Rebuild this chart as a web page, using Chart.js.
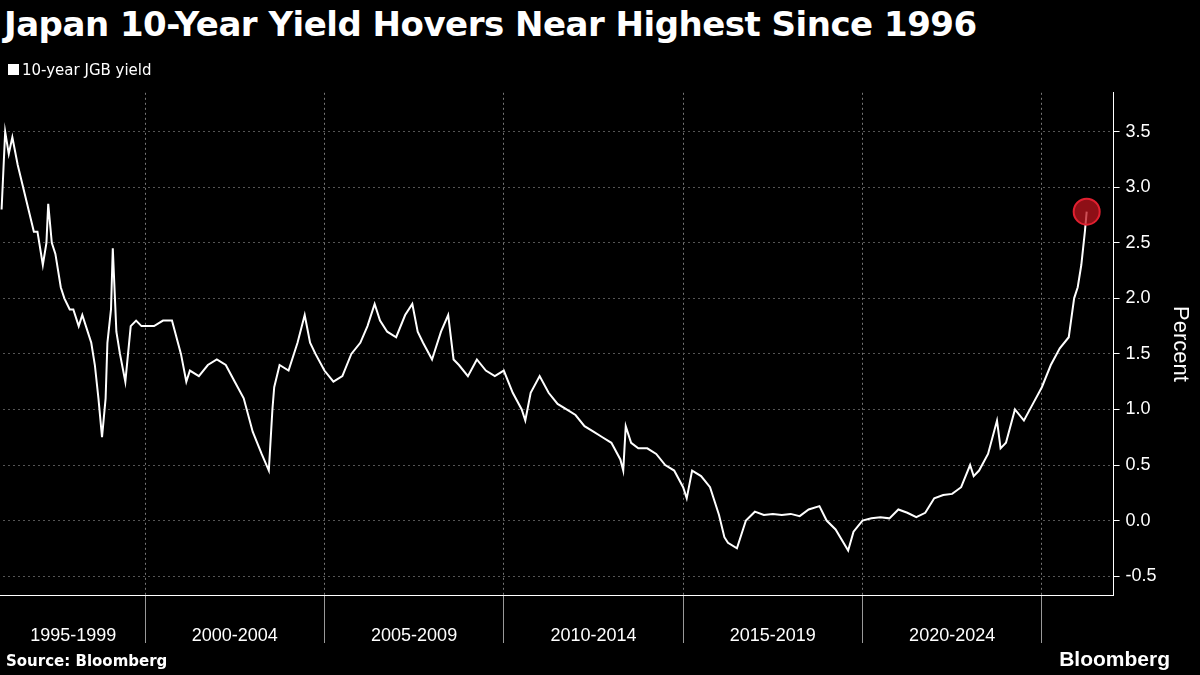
<!DOCTYPE html>
<html>
<head>
<meta charset="utf-8">
<script src="https://cdn.jsdelivr.net/npm/chart.js@4"></script>
<style>
  body { margin: 0; background: #000; width: 1200px; height: 675px; overflow: hidden; font-family: "Liberation Sans", Arial, sans-serif; color: #fff; }
  #title { position: absolute; left: 4px; top: 4px; font-size: 34px; font-weight: bold; font-family: "DejaVu Sans", sans-serif; letter-spacing: -0.5px; }
  #legend { position: absolute; left: 8px; top: 61px; font-size: 15px; font-family: "DejaVu Sans", sans-serif; }
  #legend span { display: inline-block; width: 11px; height: 11px; background: #fff; margin-right: 3px; }
  #source { position: absolute; left: 6px; top: 652px; font-size: 15px; font-weight: bold; font-family: "DejaVu Sans", sans-serif; }
  #brand { position: absolute; right: 30px; top: 647px; font-size: 21px; font-weight: bold; }
  #wrap { position: absolute; left: -17px; top: 76px; width: 1222px; height: 589px; }
</style>
</head>
<body>
<div id="wrap"><canvas id="c"></canvas></div>
<div id="title">Japan 10-Year Yield Hovers Near Highest Since 1996</div>
<div id="legend"><span></span>10-year JGB yield</div>
<div id="source">Source: Bloomberg</div>
<div id="brand">Bloomberg</div>
<script>
const years = [
  1996.0, 1996.1, 1996.2, 1996.3, 1996.45, 1996.6, 1996.75, 1996.9,
  1997.0, 1997.15, 1997.25, 1997.3, 1997.4, 1997.5, 1997.65, 1997.75, 1997.9,
  1998.0, 1998.15, 1998.25, 1998.4, 1998.5, 1998.6, 1998.7, 1998.8, 1998.9, 1998.95,
  1999.05, 1999.1, 1999.2, 1999.3, 1999.45, 1999.6, 1999.75, 1999.9,
  2000.0, 2000.25, 2000.5, 2000.75,
  2001.0, 2001.15, 2001.25, 2001.5, 2001.75,
  2002.0, 2002.25, 2002.5, 2002.75,
  2003.0, 2003.25, 2003.45, 2003.55, 2003.6, 2003.75,
  2004.0, 2004.25, 2004.45, 2004.6, 2004.75,
  2005.0, 2005.25, 2005.5, 2005.75,
  2006.0, 2006.2, 2006.4, 2006.55, 2006.75,
  2007.0, 2007.25, 2007.45, 2007.6, 2007.75,
  2008.0, 2008.25, 2008.45, 2008.6, 2008.75,
  2009.0, 2009.25, 2009.5, 2009.75,
  2010.0, 2010.25, 2010.5, 2010.6, 2010.75,
  2011.0, 2011.25, 2011.5, 2011.75,
  2012.0, 2012.25, 2012.5, 2012.75,
  2013.0, 2013.25, 2013.33, 2013.4, 2013.55, 2013.75,
  2014.0, 2014.25, 2014.5, 2014.75,
  2015.0, 2015.1, 2015.25, 2015.5, 2015.75,
  2016.0, 2016.15, 2016.25, 2016.5, 2016.75,
  2017.0, 2017.25, 2017.5, 2017.75,
  2018.0, 2018.25, 2018.5, 2018.8,
  2019.0, 2019.25, 2019.6, 2019.75,
  2020.0, 2020.25, 2020.5, 2020.75,
  2021.0, 2021.25, 2021.5, 2021.75,
  2022.0, 2022.25, 2022.5, 2022.75,
  2023.0, 2023.1, 2023.25, 2023.5, 2023.75, 2023.85,
  2024.0, 2024.25, 2024.5, 2024.75,
  2025.0, 2025.25, 2025.5, 2025.75,
  2025.9, 2026.0, 2026.1, 2026.2, 2026.25
];
const yields = [
  2.8, 3.5, 3.3, 3.45, 3.2, 3.0, 2.8, 2.6,
  2.6, 2.3, 2.5, 2.85, 2.5, 2.4, 2.1, 2.0, 1.9,
  1.9, 1.75, 1.85, 1.7, 1.6, 1.4, 1.1, 0.75, 1.1, 1.6,
  1.9, 2.45, 1.7, 1.5, 1.25, 1.75, 1.8, 1.75,
  1.75, 1.75, 1.8, 1.8,
  1.5, 1.25, 1.35, 1.3, 1.4,
  1.45, 1.4, 1.25, 1.1,
  0.8, 0.6, 0.45, 1.0, 1.2, 1.4,
  1.35, 1.6, 1.85, 1.6, 1.5,
  1.35, 1.25, 1.3, 1.5,
  1.6, 1.75, 1.95, 1.8, 1.7,
  1.65, 1.85, 1.95, 1.7, 1.6,
  1.45, 1.7, 1.85, 1.45, 1.4,
  1.3, 1.45, 1.35, 1.3,
  1.35, 1.15, 1.0, 0.9, 1.15,
  1.3, 1.15, 1.05, 1.0,
  0.95, 0.85, 0.8, 0.75,
  0.7, 0.55, 0.45, 0.85, 0.7, 0.65,
  0.65, 0.6, 0.5, 0.45,
  0.3, 0.2, 0.45, 0.4, 0.3,
  0.05, -0.15, -0.2, -0.25, 0.0,
  0.08, 0.05, 0.06, 0.05,
  0.06, 0.04, 0.1, 0.13,
  0.0, -0.08, -0.27, -0.1,
  0.0, 0.02, 0.03, 0.02,
  0.1, 0.07, 0.03, 0.07,
  0.2, 0.23, 0.24, 0.3,
  0.5, 0.4, 0.45, 0.6, 0.9, 0.65,
  0.7, 1.0, 0.9, 1.05,
  1.2, 1.4, 1.55, 1.65,
  2.0, 2.1, 2.3, 2.6, 2.78
];
const periodLabels = ["1995-1999", "2000-2004", "2005-2009", "2010-2014", "2015-2019", "2020-2024"];
const labelPos = [1998.0, 2002.5, 2007.5, 2012.5, 2017.5, 2022.5];
const boundaries = [2000, 2005, 2010, 2015, 2020, 2025];
const yTicks = [-0.5, 0, 0.5, 1.0, 1.5, 2.0, 2.5, 3.0, 3.5];

const points = years.map((x, i) => ({ x: x, y: yields[i] }));
const last = points.length - 1;

new Chart(document.getElementById("c"), {
  type: "line",
  data: {
    datasets: [{
      data: points,
      borderColor: "#fff",
      borderWidth: 2,
      tension: 0,
      pointRadius: ctx => ctx.dataIndex === last ? 13 : 0,
      pointBackgroundColor: "rgba(190,20,30,0.75)",
      pointBorderColor: "#e02030",
      pointBorderWidth: 2
    }]
  },
  options: {
    responsive: true,
    maintainAspectRatio: false,
    animation: false,
    layout: { padding: { left: 0, right: 8, top: 6, bottom: 0 } },
    plugins: { legend: { display: false }, tooltip: { enabled: false } },
    scales: {
      x: {
        type: "linear",
        min: 1995.9,
        max: 2027.0,
        afterBuildTicks: axis => {
          axis.ticks = boundaries.map(v => ({ value: v })).concat(labelPos.map(v => ({ value: v })));
        },
        afterFit: axis => { axis.height = 70; },
        ticks: {
          color: "#fff",
          autoSkip: false,
          maxRotation: 0,
          font: { size: 18, family: "Liberation Sans" },
          padding: -18,
          callback: v => {
            const i = labelPos.indexOf(v);
            return i >= 0 ? periodLabels[i] : "";
          }
        },
        grid: {
          color: ctx => ctx.tick && boundaries.includes(ctx.tick.value) ? "#777" : "rgba(0,0,0,0)",
          tickLength: 48,
          tickBorderDash: [],
          tickColor: ctx => ctx.tick && boundaries.includes(ctx.tick.value) ? "#999" : "rgba(0,0,0,0)"
        },
        border: { color: "#fff", width: 1, dash: [2, 3] }
      },
      y: {
        position: "right",
        min: -0.67,
        max: 3.85,
        afterBuildTicks: axis => { axis.ticks = yTicks.map(v => ({ value: v })); },
        ticks: {
          color: "#fff",
          font: { size: 18, family: "Liberation Sans" },
          padding: 6,
          callback: v => v.toFixed(1)
        },
        grid: { color: "#555", tickLength: 6, tickBorderDash: [], tickColor: "#fff" },
        border: { color: "#fff", width: 1, dash: [2, 3] },
        title: { display: true, text: "Percent", color: "#fff", font: { size: 22, family: "Liberation Sans" } }
      }
    }
  }
});
</script>
</body>
</html>
